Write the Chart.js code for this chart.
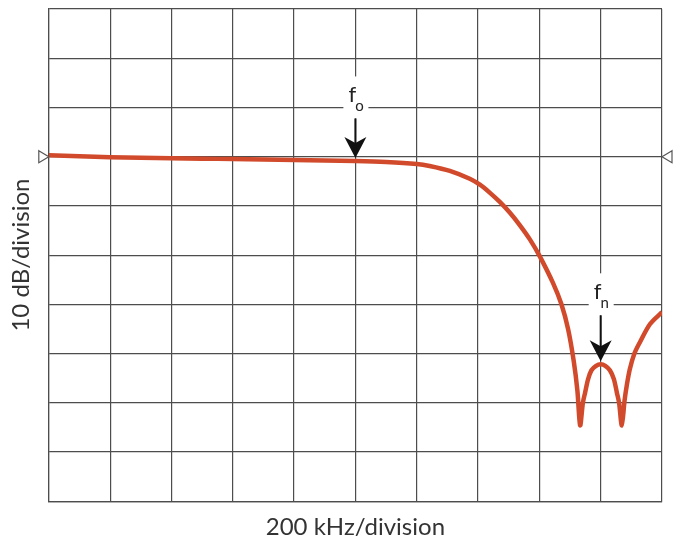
<!DOCTYPE html>
<html>
<head>
<meta charset="utf-8">
<script src="https://cdn.jsdelivr.net/npm/chart.js@4/dist/chart.umd.min.js"></script>
<style>
  html, body { margin: 0; padding: 0; background: #fff; }
  #wrap { width: 673px; height: 545px; position: relative; }
</style>
</head>
<body>
<div id="wrap"><canvas id="responseChart"></canvas></div>
<script>
// Frequency response of the low-pass filter (200 kHz and 10 dB per division)
const freqKHz = [0, 100, 200, 300, 400, 500, 600, 700, 800, 900, 1000, 1100, 1200, 1242, 1308,
    1373, 1406, 1438, 1471, 1504, 1536, 1569, 1601, 1644, 1672, 1694, 1712, 1724, 1733,
    1742, 1749, 1759, 1770, 1785, 1800, 1815, 1830, 1843, 1853, 1860, 1869,
    1878, 1885, 1895, 1910, 1928, 1961, 2000];
const gainDb = [0.3, 0.1, -0.1, -0.2, -0.3, -0.4, -0.5, -0.6, -0.7, -0.8, -0.9, -1.1, -1.5, -1.9, -2.9,
    -4.5, -5.7, -7.3, -9.2, -11.4, -13.9, -16.8, -20.2, -25.6, -30.0, -35.1, -41.5, -47.5, -54.6,
    -50.0, -48.0, -45.2, -43.4, -42.5, -42.2, -42.5, -43.4, -45.2, -48.0, -50.0, -54.6,
    -49.5, -46.5, -43.2, -40.0, -37.7, -34.0, -31.6];

// marked frequencies: corner f0 and the stop-band peak fn
const markerFreqs = [1000, 1800];
const markerNames = ['f', 'f'];
const markerSubs = ['o', 'n'];
const markerLabelDb = [10, -30];   // grid line the label sits on

const refLevelDb = 0;

const gridColor = '#4d4d4d';
const curveColor = '#d14a2b';
const textFont = 'Lato, "Open Sans", sans-serif';

function gainAt(f) {
    const i = freqKHz.indexOf(f);
    return i >= 0 ? gainDb[i] : 0;
}

const markersPlugin = {
    id: 'markers',
    afterDraw(chart) {
        const ctx = chart.ctx;
        const xs = chart.scales.x;
        const ys = chart.scales.y;

        // reference level triangles on both sides
        const yRef = ys.getPixelForValue(refLevelDb);
        ctx.save();
        ctx.strokeStyle = '#555';
        ctx.fillStyle = '#fff';
        ctx.lineWidth = 1.2;
        const l = chart.chartArea.left, r = chart.chartArea.right;
        ctx.beginPath();
        ctx.moveTo(l - 10, yRef - 6);
        ctx.lineTo(l, yRef);
        ctx.lineTo(l - 10, yRef + 6);
        ctx.closePath();
        ctx.fill();
        ctx.stroke();
        ctx.beginPath();
        ctx.moveTo(r + 10, yRef - 6);
        ctx.lineTo(r, yRef);
        ctx.lineTo(r + 10, yRef + 6);
        ctx.closePath();
        ctx.fill();
        ctx.stroke();

        markerFreqs.forEach((f, i) => {
            const x = xs.getPixelForValue(f);
            const tip = ys.getPixelForValue(gainAt(f)) - 3;
            const gy = ys.getPixelForValue(markerLabelDb[i]);
            const base = gy - 5;
            const shaftTop = gy + 11;

            // white box breaking the grid around the label
            ctx.fillStyle = '#fff';
            ctx.fillRect(x - 12, base - 26, 25, shaftTop - (base - 26));

            ctx.fillStyle = '#222';
            ctx.textBaseline = 'alphabetic';
            ctx.textAlign = 'center';
            ctx.font = '22px ' + textFont;
            ctx.fillText(markerNames[i], x - 3, base);
            ctx.font = '15px ' + textFont;
            ctx.fillText(markerSubs[i], x + 4, base + 9);

            // arrow shaft and notched head
            ctx.strokeStyle = '#111';
            ctx.lineWidth = 2;
            ctx.beginPath();
            ctx.moveTo(x, shaftTop);
            ctx.lineTo(x, tip - 10);
            ctx.stroke();
            ctx.fillStyle = '#111';
            ctx.beginPath();
            ctx.moveTo(x, tip);
            ctx.lineTo(x - 11, tip - 21);
            ctx.lineTo(x, tip - 15);
            ctx.lineTo(x + 11, tip - 21);
            ctx.closePath();
            ctx.fill();
        });
        ctx.restore();
    }
};

const ctx = document.getElementById('responseChart');
new Chart(ctx, {
    type: 'line',
    data: {
        datasets: [{
            data: freqKHz.map((f, i) => ({ x: f, y: gainDb[i] })),
            borderColor: curveColor,
            borderWidth: 4.5,
            pointRadius: 0,
            tension: 0.3,
            fill: false
        }]
    },
    options: {
        responsive: true,
        maintainAspectRatio: false,
        animation: false,
        layout: {
            padding: { top: 9, right: 11, bottom: 0, left: 0 }
        },
        plugins: {
            legend: { display: false },
            tooltip: { enabled: false }
        },
        scales: {
            x: {
                type: 'linear',
                min: 0,
                max: 2000,
                ticks: { display: false, stepSize: 200 },
                grid: { color: gridColor, lineWidth: 1.2, drawTicks: false },
                border: { color: gridColor, width: 1.2 },
                title: {
                    display: true,
                    text: '200 kHz/division',
                    color: '#333',
                    font: { family: textFont, size: 24 },
                    padding: { top: 12, bottom: 3 }
                }
            },
            y: {
                min: -70,
                max: 30,
                ticks: { display: false, stepSize: 10 },
                grid: { color: gridColor, lineWidth: 1.2, drawTicks: false },
                border: { color: gridColor, width: 1.2 },
                title: {
                    display: true,
                    text: '10 dB/division',
                    color: '#333',
                    font: { family: textFont, size: 24 },
                    padding: { top: 7, bottom: 13 }
                }
            }
        }
    },
    plugins: [markersPlugin]
});
</script>
</body>
</html>
